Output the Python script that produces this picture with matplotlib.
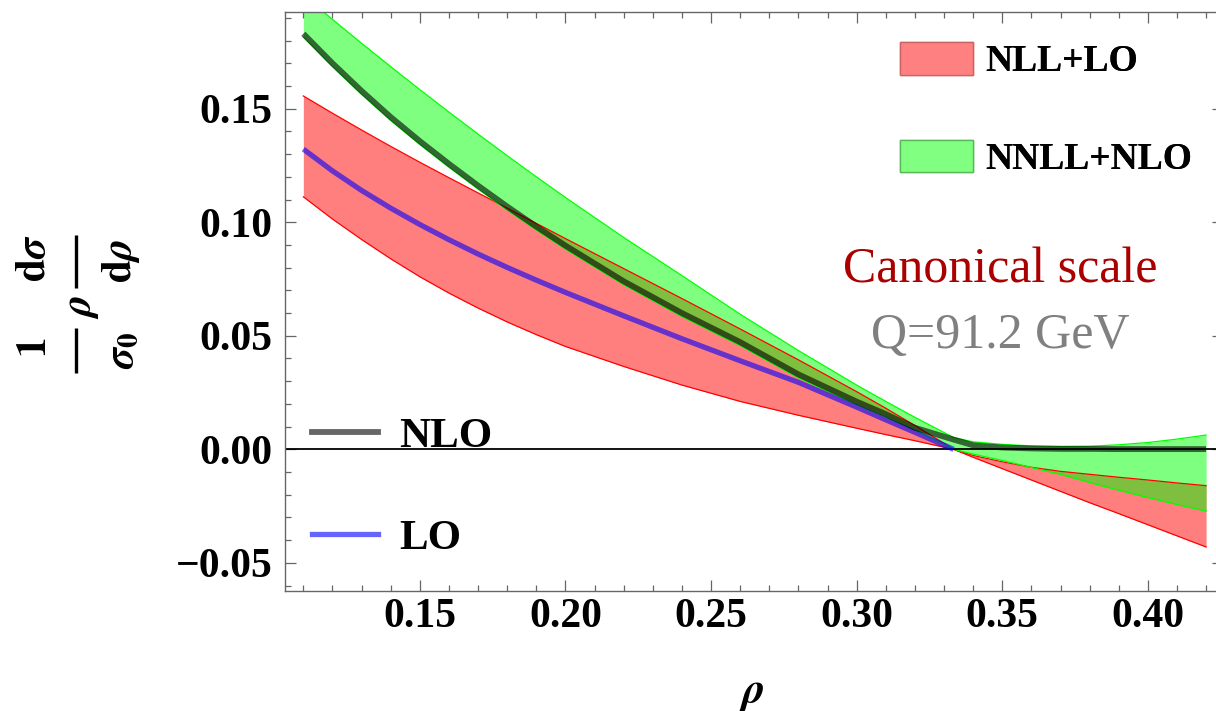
import matplotlib
matplotlib.use('Agg')
from matplotlib import pyplot as plt
from matplotlib.patches import Patch
from matplotlib.lines import Line2D
from matplotlib.ticker import MultipleLocator, FuncFormatter

plt.rcParams['font.family'] = ['Liberation Serif', 'DejaVu Serif']
plt.rcParams['mathtext.fontset'] = 'stix'

# rho grid shared by the bands and the NLO curve
rho = [0.11, 0.12, 0.13, 0.14, 0.15, 0.16, 0.17, 0.18, 0.19, 0.20, 0.22, 0.24,
       0.26, 0.28, 0.30, 0.31, 0.32, 0.3333, 0.34, 0.35, 0.36, 0.37, 0.38,
       0.39, 0.40, 0.41, 0.42]

# NLL+LO scale band (two edges, they cross at rho = 1/3)
nll_a = [0.1556, 0.1480, 0.1406, 0.1334, 0.1264, 0.1196, 0.1129, 0.1062,
         0.0995, 0.0928, 0.0796, 0.0664, 0.0530, 0.0394, 0.0254, 0.0181,
         0.0105, 0.0, -0.0035, -0.0085, -0.0135, -0.0185, -0.0235, -0.0283,
         -0.0332, -0.0381, -0.0430]
nll_b = [0.1112, 0.1014, 0.0924, 0.0839, 0.0760, 0.0688, 0.0622, 0.0561,
         0.0505, 0.0453, 0.0365, 0.0283, 0.0211, 0.0150, 0.0093, 0.0065,
         0.0038, 0.0, -0.0027, -0.0055, -0.0079, -0.0097, -0.0110, -0.0123,
         -0.0135, -0.0148, -0.0160]

# NNLL+NLO scale band
nnll_a = [0.2000, 0.1893, 0.1788, 0.1685, 0.1584, 0.1485, 0.1388, 0.1293,
          0.1200, 0.1109, 0.0933, 0.0765, 0.0595, 0.0435, 0.0283, 0.0211,
          0.0141, 0.0052, 0.0033, 0.0022, 0.0015, 0.0013, 0.0014, 0.0020,
          0.0030, 0.0045, 0.0063]
nnll_b = [0.1815, 0.1685, 0.1563, 0.1448, 0.1342, 0.1242, 0.1146, 0.1054,
          0.0966, 0.0882, 0.0725, 0.0585, 0.0457, 0.0315, 0.0196, 0.0142,
          0.0085, 0.0, -0.0021, -0.0049, -0.0080, -0.0110, -0.0146, -0.0180,
          -0.0212, -0.0243, -0.0272]

# fixed order curves
nlo = [0.1830, 0.1700, 0.1578, 0.1463, 0.1357, 0.1257, 0.1161, 0.1069,
       0.0981, 0.0897, 0.0740, 0.0600, 0.0472, 0.0330, 0.0210, 0.0155,
       0.0095, 0.0043, 0.0018, 0.0008, 0.0004, 0.0002, 0.0002, 0.0001,
       0.0001, 0.0001, 0.0001]
lo_rho = rho[:18]
lo = [0.1322, 0.1226, 0.1140, 0.1062, 0.0990, 0.0923, 0.0860, 0.0801,
      0.0745, 0.0691, 0.0588, 0.0487, 0.0390, 0.0295, 0.0186, 0.0130,
      0.0075, 0.0]

W, H = 1216, 711


def px(x, y) -> tuple:
    # pixel position (from top left) -> figure fraction
    return x / W, 1 - y / H


def fmt(v, pos=None) -> str:
    s = f'{v:.2f}'
    return s.replace('-', '\u2212')


def rot_text(fig, x, y, s, size=30) -> None:
    fig.text(*px(x, y), s, fontsize=size, rotation=90, ha='center', va='center')


def frac_bar(fig, x, y0, y1) -> None:
    (xa, ya), (_, yb) = px(x, y0), px(x, y1)
    fig.add_artist(Line2D([xa, xa], [ya, yb], transform=fig.transFigure,
                          color='black', lw=2.4, solid_capstyle='butt'))


def make_graph() -> None:
    fig = plt.figure(figsize=(W / 100, H / 100), dpi=100)
    ax = fig.add_axes([285 / W, 120.4 / H, 938 / W, 578.9 / H])

    ax.fill_between(rho, nll_a, nll_b, color='red', alpha=0.5, lw=0)
    ax.plot(rho, nll_a, color='red', lw=0.9)
    ax.plot(rho, nll_b, color='red', lw=0.9)
    ax.fill_between(rho, nnll_a, nnll_b, color='#00ff00', alpha=0.5, lw=0)
    ax.plot(rho, nnll_a, color='#00ff00', lw=0.9)
    ax.plot(rho, nnll_b, color='#00ff00', lw=0.9)

    ax.axhline(0, color='black', lw=1.3)
    ax.plot(lo_rho, lo, color='blue', alpha=0.6, lw=3.8, solid_capstyle='butt')
    ax.plot(rho, nlo, color='black', alpha=0.6, lw=4.2, solid_capstyle='butt')

    ax.set_xlim(0.1037, 0.4258)
    ax.set_ylim(-0.0622, 0.1927)

    ax.xaxis.set_major_locator(MultipleLocator(0.05))
    ax.xaxis.set_minor_locator(MultipleLocator(0.01))
    ax.yaxis.set_major_locator(MultipleLocator(0.05))
    ax.yaxis.set_minor_locator(MultipleLocator(0.01))
    ax.xaxis.set_major_formatter(FuncFormatter(fmt))
    ax.yaxis.set_major_formatter(FuncFormatter(fmt))
    ax.tick_params(which='both', direction='in', top=True, right=True,
                   color='#666666', width=0.9)
    ax.tick_params(which='major', length=8, labelsize=30, pad=9)
    ax.tick_params(which='minor', length=4.5)
    ax.tick_params(axis='x', which='major', pad=5)
    for lab in ax.get_xticklabels() + ax.get_yticklabels():
        lab.set_fontweight('bold')
    for sp in ax.spines.values():
        sp.set_color('#666666')
        sp.set_linewidth(1.0)

    # band legend, top right
    band_handles = [Patch(facecolor='#ff8080', edgecolor='#c86464', lw=1),
                    Patch(facecolor='#80ff80', edgecolor='#58b858', lw=1)]
    leg1 = fig.legend(band_handles, ['NLL+LO', 'NNLL+NLO'],
                      loc='upper left', bbox_to_anchor=px(900, 42),
                      frameon=False, borderpad=0, borderaxespad=0,
                      handlelength=1.95, handleheight=0.96, handletextpad=0.33,
                      labelspacing=1.61,
                      prop={'family': 'Liberation Serif', 'weight': 'bold', 'size': 27})

    # fixed order legend, lower left
    line_handles = [Line2D([], [], color='black', alpha=0.6, lw=4.2),
                    Line2D([], [], color='blue', alpha=0.6, lw=3.8)]
    fig.legend(line_handles, ['NLO', 'LO'],
               loc='upper left', bbox_to_anchor=px(312, 417),
               frameon=False, borderpad=0, borderaxespad=0,
               handlelength=1.53, handletextpad=0.5, labelspacing=1.46,
               prop={'family': 'Liberation Serif', 'weight': 'bold', 'size': 31})
    fig.add_artist(leg1)

    fig.text(*px(1000, 282), 'Canonical scale', color='#aa0000',
             fontsize=36, ha='center', va='baseline')
    fig.text(*px(1000, 348), 'Q=91.2 GeV', color='#808080',
             fontsize=36, ha='center', va='baseline')

    # y label: (1/sigma_0) rho (d sigma / d rho), set piece by piece
    rot_text(fig, 36, 348, r'$\mathbf{1}$')
    frac_bar(fig, 76, 328, 373)
    rot_text(fig, 122, 350, r'$\boldsymbol{\sigma}_\mathbf{0}$')
    rot_text(fig, 82, 307.5, r'$\boldsymbol{\rho}$')
    rot_text(fig, 35, 258.5, r'$\mathbf{d}\boldsymbol{\sigma}$')
    frac_bar(fig, 76, 235, 288)
    rot_text(fig, 121, 261, r'$\mathbf{d}\boldsymbol{\rho}$')

    fig.text(*px(752, 702), r'$\boldsymbol{\rho}$', fontsize=32,
             ha='center', va='baseline')

    fig.savefig('out.png', dpi=100)


if __name__ == '__main__':
    make_graph()
